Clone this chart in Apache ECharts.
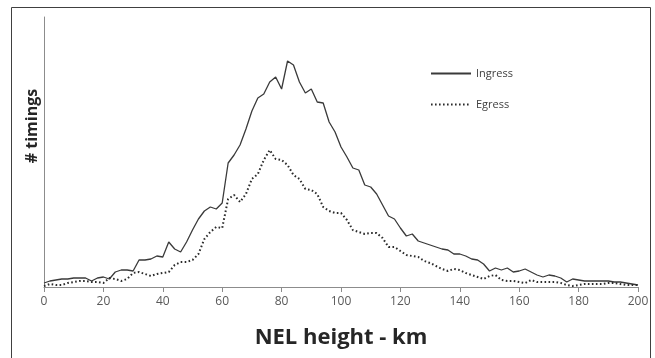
<!DOCTYPE html>
<html>
<head>
<meta charset="utf-8">
<script src="https://cdn.jsdelivr.net/npm/echarts@6/dist/echarts.min.js"></script>
<style>
html,body{margin:0;padding:0;background:#fff;}
#chart{width:655px;height:358px;}
</style>
</head>
<body>
<div id="chart"></div>
<script>
// NEL height (km), step 2
var heights = [];
for (var h = 0; h <= 200; h += 2) heights.push(h);

var ingress = [4,6,7,8,8,9,9,9,6,9,10,8,15,17,17,16,27,27,28,31,30,45,38,35,45,57,68,76,80,78,84,124,132,142,158,176,189,193,205,210,198,226,222,205,194,198,185,184,165,155,140,130,119,117,102,100,93,82,71,68,59,51,53,46,44,42,40,38,37,33,33,31,28,27,23,16,19,17,19,15,16,18,15,12,10,12,11,9,5,8,7,6,6,6,6,6,5,5,4,3,2];

var egress = [1,3,2,2,4,5,6,6,5,5,4,9,8,6,8,14,15,13,11,13,14,15,22,25,25,27,33,48,55,60,59,88,92,85,93,108,113,127,137,128,127,122,112,108,98,97,93,80,76,74,74,67,57,55,53,54,54,49,40,40,36,32,31,30,26,24,21,18,16,18,17,14,12,10,8,11,12,7,6,6,5,4,7,5,5,5,5,4,2,1,2,3,3,3,3,4,4,3,2,2,2];

var xTicks = [0,20,40,60,80,100,120,140,160,180,200];

function pairs(vals){ return heights.map(function(h,i){ return [h, vals[i]]; }); }

var chart = echarts.init(document.getElementById('chart'), null, {renderer:'canvas'});
chart.setOption({
  animation: false,
  backgroundColor: '#fff',
  grid: {left: 44, right: 17, top: 17, bottom: 71, containLabel: false},
  legend: {
    orient: 'vertical',
    left: 425, top: 63,
    itemWidth: 40, itemHeight: 12, itemGap: 20,
    itemStyle: {opacity: 0},
    textStyle: {fontFamily: 'Open Sans', fontSize: 11, color: '#404040'},
    data: [{name:'Ingress'}, {name:'Egress'}]
  },
  xAxis: {
    type: 'value', min: xTicks[0], max: xTicks[xTicks.length-1], interval: 20,
    name: 'NEL height - km', nameLocation: 'middle', nameGap: 40,
    nameTextStyle: {fontFamily: 'Open Sans', fontWeight: 'bold', fontSize: 22, color: '#262626'},
    axisLine: {lineStyle: {color: '#8c8c8c', width: 1}},
    axisTick: {show: true, length: 5, lineStyle: {color: '#8c8c8c'}},
    axisLabel: {fontFamily: 'Open Sans', fontSize: 12, color: '#595959', margin: 9},
    splitLine: {show: false}
  },
  yAxis: {
    type: 'value', min: 0, max: 270,
    axisLine: {show: true, lineStyle: {color: '#8c8c8c', width: 1}},
    axisTick: {show: false},
    axisLabel: {show: false},
    splitLine: {show: false}
  },
  graphic: [{
    type: 'rect', silent: true,
    shape: {x: 11.5, y: 7.5, width: 639, height: 360},
    style: {fill: 'none', stroke: '#404040', lineWidth: 1}
  }, {
    type: 'text', silent: true,
    x: 32, y: 126, rotation: Math.PI / 2,
    style: {text: '# timings', fontFamily: 'Open Sans', fontWeight: 'bold', fontSize: 16,
            fill: '#262626', align: 'center', verticalAlign: 'middle'}
  }],
  series: [
    {
      name: 'Ingress', type: 'line', data: pairs(ingress),
      symbol: 'none', smooth: false,
      lineStyle: {color: '#3a3a3a', width: 1.3, type: 'solid'},
      itemStyle: {color: '#3a3a3a'}
    },
    {
      name: 'Egress', type: 'line', data: pairs(egress),
      symbol: 'none', smooth: false,
      lineStyle: {color: '#2b2b2b', width: 2, type: [1.6, 2.4]},
      itemStyle: {color: '#2b2b2b'}
    }
  ]
});
</script>
</body>
</html>
